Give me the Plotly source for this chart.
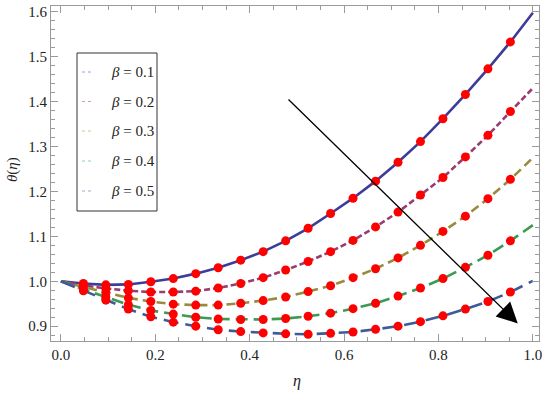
import plotly.graph_objects as go

# grid of eta (k/21, k = 0..21); markers drawn at interior points
eta = [0.0, 0.0476, 0.0952, 0.1429, 0.1905, 0.2381, 0.2857, 0.3333, 0.3810, 0.4286,
       0.4762, 0.5238, 0.5714, 0.6190, 0.6667, 0.7143, 0.7619, 0.8095, 0.8571,
       0.9048, 0.9524, 1.0]

theta_b01 = [1.000, 0.995, 0.992, 0.993, 0.999, 1.006, 1.017, 1.030, 1.047, 1.066, 1.090,
             1.118, 1.151, 1.185, 1.223, 1.265, 1.311, 1.362, 1.416, 1.473, 1.533, 1.598]
theta_b02 = [1.000, 0.991, 0.984, 0.979, 0.976, 0.976, 0.978, 0.985, 0.995, 1.008, 1.025,
             1.044, 1.066, 1.091, 1.121, 1.154, 1.192, 1.231, 1.277, 1.325, 1.378, 1.430]
theta_b03 = [1.000, 0.987, 0.975, 0.963, 0.955, 0.949, 0.947, 0.947, 0.951, 0.957, 0.965,
             0.977, 0.990, 1.008, 1.028, 1.052, 1.080, 1.111, 1.145, 1.184, 1.227, 1.275]
theta_b04 = [1.000, 0.982, 0.965, 0.948, 0.935, 0.927, 0.920, 0.916, 0.915, 0.915, 0.917,
             0.922, 0.929, 0.939, 0.951, 0.967, 0.985, 1.006, 1.031, 1.058, 1.090, 1.125]
theta_b05 = [1.000, 0.979, 0.958, 0.938, 0.921, 0.909, 0.900, 0.892, 0.888, 0.885, 0.883,
             0.882, 0.884, 0.887, 0.893, 0.900, 0.910, 0.923, 0.938, 0.955, 0.976, 1.001]

series = [theta_b01, theta_b02, theta_b03, theta_b04, theta_b05]
labels = ["<i>β</i> = 0.1", "<i>β</i> = 0.2", "<i>β</i> = 0.3", "<i>β</i> = 0.4", "<i>β</i> = 0.5"]
colors = ["rgb(61,61,153)", "rgb(153,61,113)", "rgb(153,139,61)", "rgb(61,153,84)", "rgb(61,90,153)"]
dashes = ["solid", "6px,3px", "9px,5px", "12px,6px", "15px,7px"]

x_ticks = [0, 0.2, 0.4, 0.6, 0.8, 1.0]
x_ticklabels = ["0.0", "0.2", "0.4", "0.6", "0.8", "1.0"]
y_ticks = [0.9, 1.0, 1.1, 1.2, 1.3, 1.4, 1.5, 1.6]
y_ticklabels = ["0.9", "1.0", "1.1", "1.2", "1.3", "1.4", "1.5", "1.6"]

# arrow (tail -> head) in data coordinates
arrow_tail = (0.479, 1.408)
arrow_head = (0.968, 0.906)

SERIF = "Liberation Serif"
TXT = "#222222"

W, H = 550, 393
L, R, T, B = 51, 11, 6, 52
PW, PH = W - L - R, H - T - B

fig = go.Figure()
for ys, c, d in zip(series, colors, dashes):
    fig.add_trace(go.Scatter(x=eta, y=ys, mode="lines",
                             line=dict(color=c, width=2.6, dash=d),
                             showlegend=False, hoverinfo="skip"))
for ys in series:
    fig.add_trace(go.Scatter(x=eta[1:-1], y=ys[1:-1], mode="markers",
                             marker=dict(color="#ff0000", size=9, line=dict(width=0)),
                             showlegend=False))

def px(xp):
    return (xp - L) / PW

def py(yp):
    return (H - B - yp) / PH

shapes = []
annotations = []
# legend box
shapes.append(dict(type="rect", xref="paper", yref="paper",
                   x0=px(77), x1=px(157), y0=py(211), y1=py(53),
                   line=dict(color="#333333", width=1), fillcolor="white", layer="above"))
row_y = [72, 101.5, 131, 161, 191]
for lab, c, ry in zip(labels, colors, row_y):
    shapes.append(dict(type="line", xref="paper", yref="paper",
                       x0=px(82), x1=px(94), y0=py(ry), y1=py(ry),
                       line=dict(color=c, width=1, dash="dot"), opacity=0.5, layer="above"))
    annotations.append(dict(xref="paper", yref="paper", x=px(109), y=py(ry),
                            text=lab, showarrow=False, xanchor="left", yanchor="middle",
                            font=dict(family=SERIF, size=15, color=TXT)))

annotations.append(dict(x=arrow_head[0], y=arrow_head[1], ax=arrow_tail[0], ay=arrow_tail[1],
                        xref="x", yref="y", axref="x", ayref="y", showarrow=True,
                        arrowhead=2, arrowsize=3.2, arrowwidth=1.3, arrowcolor="black",
                        standoff=0, text=""))

# axis titles
annotations.append(dict(xref="paper", yref="paper", x=px(297), y=py(381), text="<i>η</i>",
                        showarrow=False, xanchor="center", yanchor="middle",
                        font=dict(family=SERIF, size=16, color=TXT)))
annotations.append(dict(xref="paper", yref="paper", x=px(13), y=py(170), text="<i>θ</i>(<i>η</i>)",
                        showarrow=False, xanchor="center", yanchor="middle", textangle=-90,
                        font=dict(family=SERIF, size=15, color=TXT)))

axis_common = dict(showgrid=False, zeroline=False, showline=True, linecolor="#9a9a9a",
                   linewidth=1, mirror="allticks", ticks="inside", ticklen=7,
                   tickcolor="#9a9a9a", tickwidth=1, automargin=False,
                   tickfont=dict(family=SERIF, size=15, color=TXT))

fig.update_layout(
    width=W, height=H,
    margin=dict(l=L, r=R, t=T, b=B),
    font=dict(family=SERIF),
    paper_bgcolor="white", plot_bgcolor="white",
    shapes=shapes, annotations=annotations,
    xaxis=dict(range=[-0.021, 1.013], tickvals=x_ticks, ticktext=x_ticklabels,
               minor=dict(dtick=0.05, tick0=0, ticks="inside", ticklen=4, tickcolor="#9a9a9a"),
               **axis_common),
    yaxis=dict(range=[0.867, 1.613], tickvals=y_ticks, ticktext=y_ticklabels,
               minor=dict(dtick=0.02, tick0=0.9, ticks="inside", ticklen=4, tickcolor="#9a9a9a"),
               **axis_common),
)

fig.write_html("out.html", config={"displayModeBar": False},
               post_script="document.body.style.margin='0';document.body.style.padding='0';")
